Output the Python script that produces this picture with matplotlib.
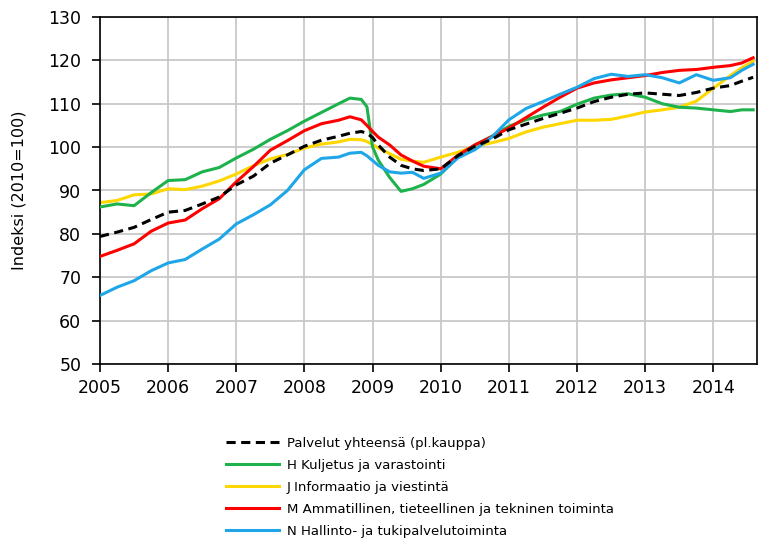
"""Palveluiden liikevaihtoindeksi 2005-2014, toimialoittain."""
import matplotlib
matplotlib.use("Agg")
import matplotlib.pyplot as plt
import numpy as np

# months since Jan 2005 for the sampled points
months = [0, 3, 6, 9, 12, 15, 18, 21, 24, 27, 30, 33, 36, 39, 42, 44, 46, 47, 48, 49,
          51, 53, 55, 57, 60, 63, 66, 69, 72, 75, 78, 81, 84, 87, 90, 93, 96, 99, 102,
          105, 108, 111, 113, 115]

palvelut = [79.4, 80.4, 81.5, 83.3, 85.0, 85.4, 86.9, 88.5, 91.3, 93.3, 96.3, 98.2,
            100.2, 101.6, 102.5, 103.2, 103.6, 103.2, 102.2, 100.5, 97.7, 95.8, 95.0,
            94.6, 95.0, 98.0, 100.2, 101.8, 104.0, 105.3, 106.6, 107.8, 109.0, 110.5,
            111.5, 112.2, 112.5, 112.2, 111.9, 112.6, 113.6, 114.2, 115.2, 116.1]
kuljetus = [86.2, 86.9, 86.5, 89.5, 92.3, 92.5, 94.3, 95.3, 97.5, 99.5, 101.8, 103.8,
            106.0, 108.0, 110.0, 111.3, 111.0, 109.3, 100.0, 97.0, 93.0, 89.8, 90.4,
            91.4, 93.8, 97.7, 100.5, 102.5, 104.8, 106.3, 107.4, 108.2, 109.9, 111.3,
            112.0, 112.3, 111.5, 110.0, 109.2, 109.0, 108.6, 108.2, 108.6, 108.6]
informaatio = [87.2, 87.7, 89.0, 89.2, 90.4, 90.2, 91.0, 92.2, 93.8, 95.7, 97.3, 98.3,
               99.8, 100.7, 101.2, 101.8, 101.7, 101.3, 100.6, 99.8, 98.5, 97.2, 96.8,
               96.5, 97.7, 98.8, 100.2, 101.0, 102.0, 103.5, 104.6, 105.4, 106.2, 106.2,
               106.4, 107.2, 108.1, 108.6, 109.2, 110.6, 113.6, 116.5, 118.3, 119.8]
ammatillinen = [74.8, 76.2, 77.7, 80.6, 82.5, 83.2, 85.8, 88.1, 92.0, 95.5, 99.3, 101.5,
                103.8, 105.4, 106.2, 107.0, 106.3, 105.0, 103.6, 102.3, 100.5, 98.2, 96.8,
                95.6, 95.0, 98.1, 100.5, 102.4, 104.4, 106.8, 109.2, 111.5, 113.6, 114.8,
                115.5, 116.0, 116.5, 117.2, 117.7, 117.9, 118.4, 118.8, 119.4, 120.6]
hallinto = [65.8, 67.7, 69.2, 71.5, 73.3, 74.1, 76.5, 78.8, 82.3, 84.4, 86.7, 90.0,
            94.8, 97.4, 97.7, 98.6, 98.8, 98.0, 96.9, 95.8, 94.3, 94.0, 94.2, 92.8,
            94.0, 97.5, 99.4, 102.3, 106.3, 108.9, 110.5, 112.2, 113.8, 115.8, 116.8,
            116.3, 116.7, 116.0, 114.8, 116.7, 115.4, 116.0, 117.7, 119.1]

labels = [
    "Palvelut yhteensä (pl.kauppa)",
    "H Kuljetus ja varastointi",
    "J Informaatio ja viestintä",
    "M Ammatillinen, tieteellinen ja tekninen toiminta",
    "N Hallinto- ja tukipalvelutoiminta",
]
year_ticks = list(range(2005, 2015))
y_ticks = list(range(50, 131, 10))

plt.rcParams["font.family"] = ["DejaVu Sans"]

x = 2005 + np.array(months) / 12.0

fig = plt.figure(figsize=(7.74, 5.45), dpi=100)
ax = fig.add_axes([100 / 774, 1 - 364 / 545, 657 / 774, 347 / 545])

lw = 2.2
ax.plot(x, palvelut, color="black", lw=lw, dashes=(3, 1.8), label=labels[0], zorder=6)
ax.plot(x, kuljetus, color="#1db24b", lw=lw, label=labels[1], zorder=3)
ax.plot(x, informaatio, color="#ffd700", lw=lw, label=labels[2], zorder=2)
ax.plot(x, ammatillinen, color="#ff0000", lw=lw, label=labels[3], zorder=4)
ax.plot(x, hallinto, color="#1ea6e8", lw=lw, label=labels[4], zorder=5)

ax.set_xlim(2005, 2014.64)
ax.set_ylim(50, 130)
ax.set_xticks(year_ticks)
ax.set_yticks(y_ticks)
ax.grid(True, color="#c8c8c8", lw=1.3)
ax.set_axisbelow(True)
for sp in ax.spines.values():
    sp.set_color("black")
    sp.set_linewidth(1.2)
ax.tick_params(axis="both", direction="out", length=5.5, width=1.2, labelsize=12.5,
               colors="black")
ax.tick_params(axis="y", pad=8)
ax.tick_params(axis="x", pad=5)
ax.set_ylabel("Indeksi (2010=100)", fontsize=11.5, labelpad=16)

fig.legend(loc="upper left", bbox_to_anchor=(226 / 774, 1 - 437 / 545), frameon=False,
           fontsize=9.5, handlelength=4.0, handletextpad=0.6, labelspacing=0.68,
           borderpad=0, borderaxespad=0)

fig.savefig("out.png", dpi=100)
